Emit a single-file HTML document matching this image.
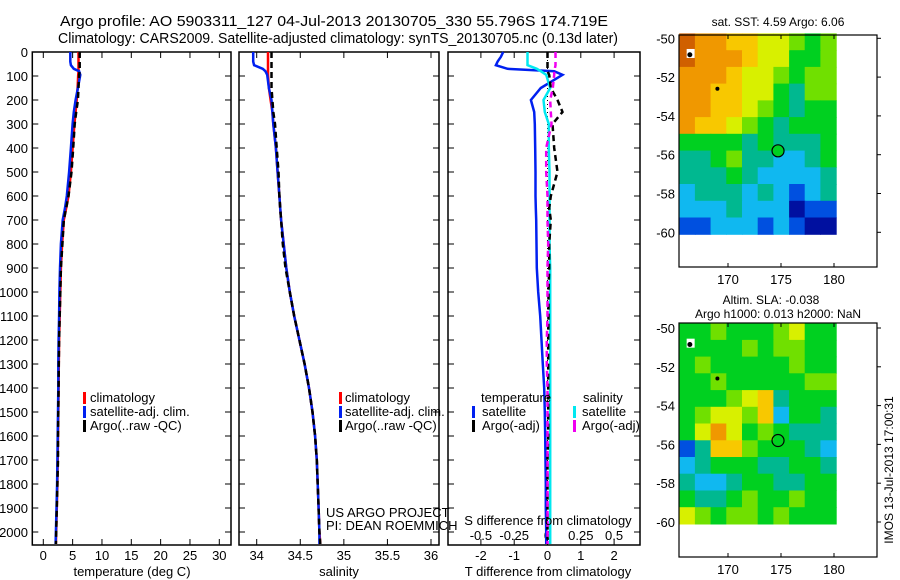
<!DOCTYPE html>
<html><head><meta charset="utf-8"><style>
html,body{margin:0;padding:0;background:#fff;}
svg{display:block;font-family:"Liberation Sans",sans-serif;}
</style></head><body>
<svg id="chart" width="900" height="580" viewBox="0 0 900 580">
<text x="334" y="26" font-size="15" text-anchor="middle" textLength="548" lengthAdjust="spacingAndGlyphs">Argo profile: AO 5903311_127 04-Jul-2013 20130705_330 55.796S 174.719E</text>
<text x="338" y="43" font-size="14.5" text-anchor="middle" textLength="560" lengthAdjust="spacingAndGlyphs">Climatology: CARS2009. Satellite-adjusted climatology: synTS_20130705.nc (0.13d later)</text>
<g id="g"></g>
</svg>
<script>
const depth=[0,20,40,55,70,80,95,150,200,250,300,400,500,600,650,700,800,900,1000,1100,1200,1300,1400,1500,1600,1700,1800,1900,2000,2050];
const tClim=[6.0,6.0,6.0,6.0,6.0,6.0,5.95,5.85,5.7,5.5,5.3,5.0,4.7,4.3,3.9,3.5,3.2,3.0,2.9,2.8,2.7,2.65,2.6,2.55,2.5,2.45,2.4,2.3,2.2,2.15];
const tSat=[4.6,4.6,4.6,4.7,5.2,6.1,6.3,5.9,5.5,5.2,5.0,4.7,4.4,4.0,3.7,3.3,3.0,2.85,2.75,2.7,2.6,2.55,2.55,2.5,2.45,2.4,2.35,2.25,2.15,2.1];
const tArgo=[6.2,6.2,6.2,6.2,6.2,6.2,6.1,6.0,5.9,5.6,5.35,5.1,4.8,4.3,3.9,3.5,3.25,3.0,2.9,2.8,2.7,2.65,2.6,2.55,2.5,2.5,2.4,2.3,2.2,2.15];
const sClim=[34.13,34.13,34.13,34.13,34.13,34.13,34.13,34.14,34.16,34.18,34.19,34.22,34.24,34.26,34.27,34.28,34.31,34.34,34.38,34.43,34.49,34.55,34.6,34.64,34.67,34.69,34.7,34.71,34.72,34.73];
const sSat=[33.96,33.96,33.96,33.97,34.07,34.1,34.12,34.14,34.17,34.18,34.19,34.22,34.24,34.26,34.27,34.28,34.31,34.34,34.38,34.43,34.49,34.55,34.6,34.64,34.67,34.69,34.7,34.71,34.72,34.72];
const sArgo=[34.17,34.17,34.17,34.17,34.17,34.17,34.17,34.17,34.18,34.19,34.21,34.23,34.25,34.26,34.27,34.28,34.3,34.33,34.38,34.43,34.49,34.55,34.6,34.64,34.67,34.69,34.7,34.71,34.72,34.73];
const dTSat=[-1.33,-1.4,-1.5,-1.55,-1.2,0.2,0.45,-0.2,-0.5,-0.4,-0.38,-0.37,-0.36,-0.36,-0.35,-0.34,-0.33,-0.32,-0.28,-0.22,-0.18,-0.14,-0.1,-0.08,-0.07,-0.06,-0.05,-0.05,-0.04,-0.04];
const dTArgo=[0,0,0,0,0,0,0.05,0.1,0.3,0.45,0.15,0.2,0.3,0.1,0.05,0.1,0.05,0.05,0.03,0.03,0.02,0.02,0.02,0.02,0.02,0,0,0,0,0];
const dSSat=[-0.15,-0.15,-0.15,-0.15,-0.08,-0.05,-0.01,0.02,-0.03,-0.02,0.01,0.01,0.015,0.015,0.015,0.015,0.015,0.02,0.02,0.02,0.02,0.02,0.02,0.02,0.02,0.02,0.02,0.02,0.02,0.02];
const dSArgo=[0.06,0.06,0.06,0.06,0.055,0.05,0.05,0.04,0.02,0.025,0.03,-0.01,-0.01,0,0,0,0.005,0,0,0,-0.005,-0.005,0,0,0,0,0,0,0,0];
const depthTicks=[0,100,200,300,400,500,600,700,800,900,1000,1100,1200,1300,1400,1500,1600,1700,1800,1900,2000];
const tTicks=[0,5,10,15,20,25,30];
const sTicks=[34,34.5,35,35.5,36];
const sTickLabels=["34","34.5","35","35.5","36"];
const dTTicks=[-2,-1,0,1,2];
const dSTicks=[-0.5,-0.25,0,0.25,0.5];
const dSTickLabels=["-0.5","-0.25","0","0.25","0.5"];
const lonTicks=[170,175,180];
const latTicks=[50,52,54,56,58,60];
const sstGrid=[
[9,8,8,7,7,6,6,5,4,5],[9,8,8,8,7,6,6,4,4,5],[8,8,8,7,6,6,5,4,5,5],[8,8,7,7,6,6,4,3,5,5],
[8,8,7,7,6,5,4,3,4,4],[8,7,7,6,5,4,3,4,4,4],[4,4,4,4,3,4,3,3,3,4],[3,3,4,5,3,3,2,2,3,4],
[3,3,3,4,3,2,2,2,2,3],[2,3,3,3,2,3,2,1,2,3],[2,2,2,3,2,2,2,0,1,1],[1,1,2,2,2,1,2,1,0,0]];
const slaGrid=[
[4,4,5,4,4,4,5,6,4,4],[4,4,4,4,5,4,5,5,4,4],[4,5,4,4,4,4,4,5,4,4],[4,4,5,4,4,4,4,4,5,5],
[4,4,4,5,6,7,3,4,4,4],[4,5,6,6,5,7,2,4,4,3],[4,6,8,6,4,5,4,3,3,3],[1,3,7,7,5,4,4,4,3,2],
[2,3,4,4,4,3,3,4,4,3],[3,2,2,3,4,4,3,3,4,4],[4,3,3,4,5,4,4,5,4,4],[6,5,4,5,5,4,5,4,4,4]];
const palette=["#0010a0","#0050e0","#10b8f0","#00b890","#00d020","#70e000","#d8f000","#f8c800","#f09800","#d06000"];
const floatLon=174.72, floatLat=55.8;

const NS="http://www.w3.org/2000/svg";
const G=document.getElementById('g');
function el(tag,attrs,parent){const e=document.createElementNS(NS,tag);for(const k in attrs)e.setAttribute(k,attrs[k]);(parent||G).appendChild(e);return e;}
const yD=d=>52+d*0.24;
const TOP=52,BOT=545;
function lin(d0,d1,p0,p1){return v=>p0+(v-d0)*(p1-p0)/(d1-d0);}
const xT=lin(0,30,43.3,219.3);
const xS=lin(34,36,256.7,431);
const xDT=lin(0,1,547.5,580.8);
const xDS=lin(0,0.25,547.5,580.8);

function frame(x0,x1,name,yLabels){
  const r=el('rect',{x:x0,y:TOP,width:x1-x0,height:BOT-TOP,fill:'none',stroke:'#000','stroke-width':1.5});
  
  
  depthTicks.forEach(d=>{
    const y=yD(d);
    el('line',{x1:x0,x2:x0+6,y1:y,y2:y,stroke:'#000'});
    el('line',{x1:x1-6,x2:x1,y1:y,y2:y,stroke:'#000'});
    if(yLabels){const t=el('text',{x:28,y:y+5,'font-size':13,'text-anchor':'end'});t.textContent=d;
      
      }
  });
}
function xAxis(ticks,labels,fx,x0,x1,ty,name){
  ticks.forEach((v,i)=>{const x=fx(v);
    el('line',{x1:x,x2:x,y1:BOT-6,y2:BOT,stroke:'#000'});
    el('line',{x1:x,x2:x,y1:TOP,y2:TOP+6,stroke:'#000'});
    const t=el('text',{x:x,y:ty,'font-size':13,'text-anchor':'middle'});t.textContent=labels[i];
    
    });
}
function series(vals,fx,color,name,dash){
  const pts=vals.map((v,i)=>fx(v).toFixed(1)+','+yD(depth[i]).toFixed(1)).join(' ');
  const a={points:pts,fill:'none',stroke:color,'stroke-width':2.5};
  if(dash)a['stroke-dasharray']=dash;
  const p=el('polyline',a);
  
  
}
function txt(x,y,s,name,anchor,size){const t=el('text',{x:x,y:y,'font-size':size||13,'text-anchor':anchor||'start'});t.textContent=s;
  
  return t;}
function legMark(x,y,color,name){const r=el('rect',{x:x,y:y-11,width:3,height:12,fill:color});
  
  }

frame(32.3,231,'temperature-panel',true);
xAxis(tTicks,tTicks.map(String),xT,32,231,560,'temperature');
series(tClim,xT,'#f00','temperature-climatology-line');
series(tSat,xT,'#0020f0','temperature-satellite-line');
series(tArgo,xT,'#000','temperature-argo-line','6 4');
txt(132,576,'temperature (deg C)','temperature-axis-title','middle');
legMark(83,403,'#f00','legend-climatology-mark');txt(90,402,'climatology','legend-climatology');
legMark(83,417,'#0020f0','legend-satellite-mark');txt(90,416,'satellite-adj. clim.','legend-satellite');
legMark(83,431,'#000','legend-argo-mark');txt(90,430,'Argo(..raw -QC)','legend-argo');

frame(239,439,'salinity-panel',false);
xAxis(sTicks,sTickLabels,xS,239,439,560,'salinity');
series(sClim,xS,'#f00','salinity-climatology-line');
series(sSat,xS,'#0020f0','salinity-satellite-line');
series(sArgo,xS,'#000','salinity-argo-line','6 4');
txt(339,576,'salinity','salinity-axis-title','middle');
legMark(339,403,'#f00','legend2-climatology-mark');txt(345,402,'climatology','legend2-climatology');
legMark(339,417,'#0020f0','legend2-satellite-mark');txt(345,416,'satellite-adj. clim.','legend2-satellite');
legMark(339,431,'#000','legend2-argo-mark');txt(345,430,'Argo(..raw -QC)','legend2-argo');
txt(326,517,'US ARGO PROJECT','credit-project');
txt(326,530,'PI: DEAN ROEMMICH','credit-pi');

frame(448,640,'difference-panel',false);
xAxis(dTTicks,dTTicks.map(String),xDT,448,640,560,'t-difference');
dSTicks.forEach((v,i)=>{txt(xDS(v),540,dSTickLabels[i],'s-difference-tick-label','middle');});
el('line',{x1:xDT(0),x2:xDT(0),y1:TOP,y2:BOT,stroke:'#000','stroke-dasharray':'1 3'});
series(dTSat,xDT,'#0020f0','t-difference-satellite-line');
series(dSSat,xDS,'#00e8f0','s-difference-satellite-line');
series(dTArgo,xDT,'#000','t-difference-argo-line','6 4');
series(dSArgo,xDS,'#f000f0','s-difference-argo-line','6 4');
txt(548,576,'T difference from climatology','t-difference-axis-title','middle');
txt(548,525,'S difference from climatology','s-difference-axis-title','middle');
txt(481,402,'temperature','legend3-temperature-heading');
txt(583,402,'salinity','legend3-salinity-heading');
legMark(472,417,'#0020f0','legend3-t-satellite-mark');txt(482,416,'satellite','legend3-t-satellite');
legMark(472,431,'#000','legend3-t-argo-mark');txt(482,430,'Argo(-adj)','legend3-t-argo');
legMark(573,417,'#00e8f0','legend3-s-satellite-mark');txt(582,416,'satellite','legend3-s-satellite');
legMark(573,431,'#f000f0','legend3-s-argo-mark');txt(582,430,'Argo(-adj)','legend3-s-argo');

const xLon=lin(170,180,728,834);
function map(grid,top,bottom,lat50y,name,fillCircle){
  const yLat=lin(50,60,lat50y,lat50y+194);
  const lon0=165.4,lon1=180.2,la0=49.75,la1=60.1;
  const nr=grid.length,nc=grid[0].length;
  grid.forEach((row,r)=>row.forEach((v,c)=>{
    const x=xLon(lon0+(lon1-lon0)*c/nc),x2=xLon(lon0+(lon1-lon0)*(c+1)/nc);
    const y=yLat(la0+(la1-la0)*r/nr),y2=yLat(la0+(la1-la0)*(r+1)/nr);
    const cell=el('rect',{x:x.toFixed(1),y:y.toFixed(1),width:(x2-x+0.6).toFixed(1),height:(y2-y+0.6).toFixed(1),fill:palette[v]});
    
    
  }));
  const f=el('rect',{x:679,y:top,width:198,height:bottom-top,fill:'none',stroke:'#000','stroke-width':1.2});
  
  
  lonTicks.forEach(l=>{const x=xLon(l);
    el('line',{x1:x,x2:x,y1:top,y2:top+4,stroke:'#000'});
    el('line',{x1:x,x2:x,y1:bottom-4,y2:bottom,stroke:'#000'});
    txt(x,bottom+17,String(l),name+'-lon-label','middle');});
  latTicks.forEach(l=>{const y=yLat(l);
    el('line',{x1:877,x2:881,y1:y,y2:y,stroke:'#000'});
    txt(675,y+5,'-'+l,name+'-lat-label','end');});
  el('rect',{x:xLon(166.1),y:yLat(50.55),width:8,height:9,fill:'#fff'});
  el('circle',{cx:xLon(166.4),cy:yLat(50.85),r:2.5,fill:'#000'});
  el('circle',{cx:xLon(169.0),cy:yLat(52.6),r:2,fill:'#000'});
  const c=el('circle',{cx:xLon(floatLon),cy:yLat(floatLat),r:6,fill:fillCircle,stroke:'#000','stroke-width':1.2});
  
  
}
map(sstGrid,35,267,38.3,'sst-map','#00d020');
map(slaGrid,323,557,328,'sla-map','none');
txt(778,26,'sat. SST: 4.59  Argo: 6.06','sst-map-title','middle',12);
txt(771,304,'Altim. SLA: -0.038','sla-map-title-1','middle',12);
txt(778,318,'Argo h1000: 0.013 h2000: NaN','sla-map-title-2','middle',12);
const im=txt(0,0,'IMOS 13-Jul-2013 17:00:31','imos-timestamp','middle',12);
im.setAttribute('transform','translate(893,470) rotate(-90)');
</script>
</body></html>
